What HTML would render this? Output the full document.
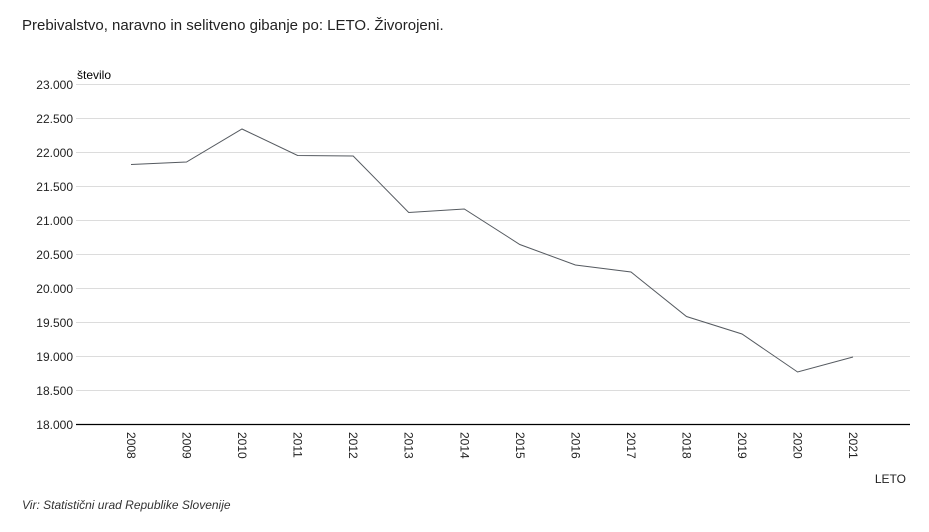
<!DOCTYPE html>
<html><head><meta charset="utf-8"><style>
body{margin:0;background:#fff;}
svg{display:block;font-family:"Liberation Sans",Arial,sans-serif;}
</style></head><body>
<svg width="929" height="532" viewBox="0 0 929 532">
<text x="22" y="30" font-size="15" fill="#222">Prebivalstvo, naravno in selitveno gibanje po: LETO. Živorojeni.</text>
<text x="77" y="79" font-size="12" fill="#000">število</text>
<g stroke="#dcdcdc" stroke-width="1">
<line x1="76" x2="910" y1="84.5" y2="84.5"/>
<line x1="76" x2="910" y1="118.5" y2="118.5"/>
<line x1="76" x2="910" y1="152.5" y2="152.5"/>
<line x1="76" x2="910" y1="186.5" y2="186.5"/>
<line x1="76" x2="910" y1="220.5" y2="220.5"/>
<line x1="76" x2="910" y1="254.5" y2="254.5"/>
<line x1="76" x2="910" y1="288.5" y2="288.5"/>
<line x1="76" x2="910" y1="322.5" y2="322.5"/>
<line x1="76" x2="910" y1="356.5" y2="356.5"/>
<line x1="76" x2="910" y1="390.5" y2="390.5"/>
</g>
<line x1="76" x2="910" y1="424.5" y2="424.5" stroke="#000" stroke-width="1.3"/>
<g font-size="12" fill="#222" text-anchor="end">
<text x="73" y="89">23.000</text>
<text x="73" y="123">22.500</text>
<text x="73" y="157">22.000</text>
<text x="73" y="191">21.500</text>
<text x="73" y="225">21.000</text>
<text x="73" y="259">20.500</text>
<text x="73" y="293">20.000</text>
<text x="73" y="327">19.500</text>
<text x="73" y="361">19.000</text>
<text x="73" y="395">18.500</text>
<text x="73" y="429">18.000</text>
</g>
<g font-size="12" fill="#222">
<text transform="translate(127,432) rotate(90)">2008</text>
<text transform="translate(182.5,432) rotate(90)">2009</text>
<text transform="translate(238,432) rotate(90)">2010</text>
<text transform="translate(293.6,432) rotate(90)">2011</text>
<text transform="translate(349.2,432) rotate(90)">2012</text>
<text transform="translate(404.7,432) rotate(90)">2013</text>
<text transform="translate(460.3,432) rotate(90)">2014</text>
<text transform="translate(515.8,432) rotate(90)">2015</text>
<text transform="translate(571.4,432) rotate(90)">2016</text>
<text transform="translate(627,432) rotate(90)">2017</text>
<text transform="translate(682.5,432) rotate(90)">2018</text>
<text transform="translate(738,432) rotate(90)">2019</text>
<text transform="translate(793.6,432) rotate(90)">2020</text>
<text transform="translate(849,432) rotate(90)">2021</text>
</g>
<polyline fill="none" stroke="#555a60" stroke-width="1" points="131,164.5 186.5,162 242,129 297.6,155.5 353.2,156 408.7,212.5 464.3,209 519.8,244.5 575.4,265 631,272 686.5,316.5 742,334 797.6,372 853,357"/>
<text x="906" y="483" font-size="12" fill="#222" text-anchor="end">LETO</text>
<text x="22" y="509" font-size="12" font-style="italic" fill="#333">Vir: Statistični urad Republike Slovenije</text>
</svg>
</body></html>
